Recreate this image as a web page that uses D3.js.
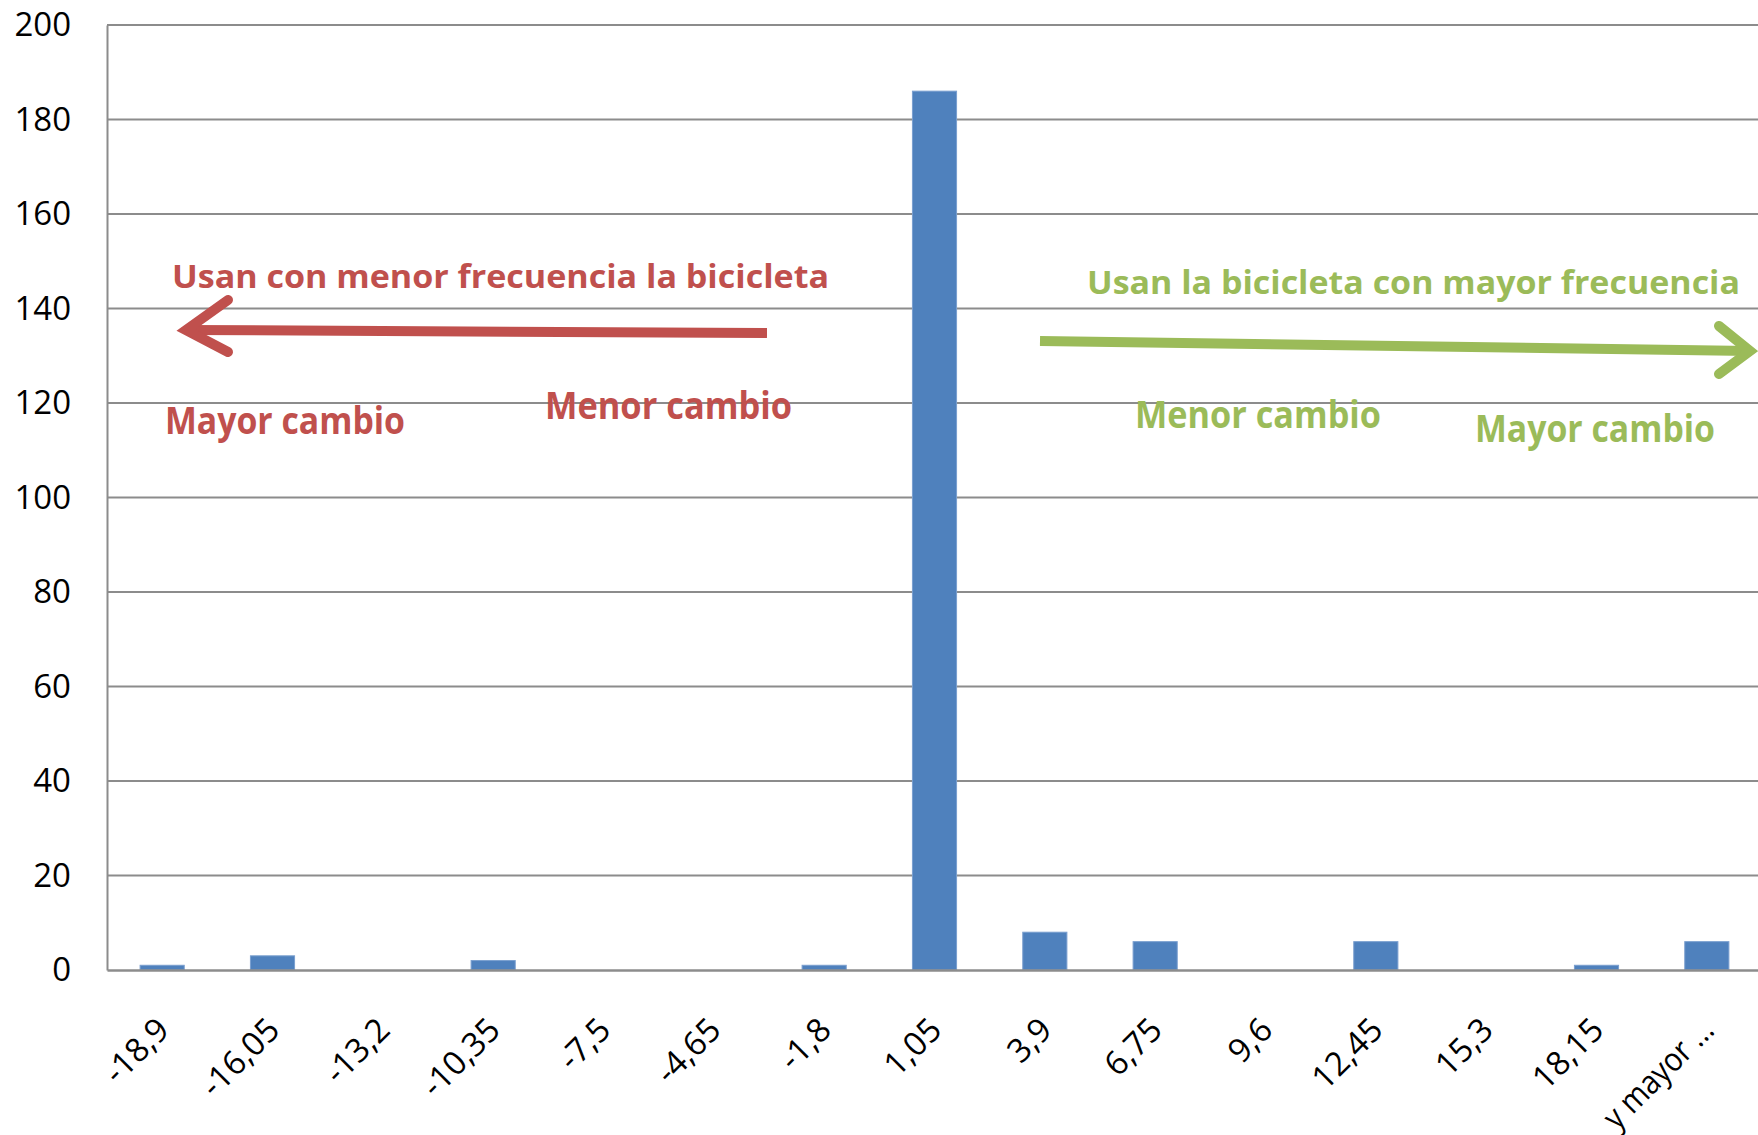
<!DOCTYPE html>
<html>
<head>
<meta charset="utf-8">
<script src="https://cdn.jsdelivr.net/npm/d3@7"></script>
<style>
  body { margin: 0; background: #fff; }
  svg { display: block; }
  .grid line { stroke: #8c8c8c; stroke-width: 2; }
  .axis text { font-family: "Open Sans", sans-serif; font-size: 33px; fill: #000; }
  .note { font-family: "Open Sans", sans-serif; font-weight: bold; }
</style>
</head>
<body>
<svg width="1758" height="1135"></svg>
<script>
// histogram bins (cambio en frecuencia de uso) and counts
const categories = ["-18,9", "-16,05", "-13,2", "-10,35", "-7,5", "-4,65", "-1,8", "1,05",
                    "3,9", "6,75", "9,6", "12,45", "15,3", "18,15", "y mayor ..."];
const counts = [1, 3, 0, 2, 0, 0, 1, 186, 8, 6, 0, 6, 0, 1, 6];
const yTicks = [0, 20, 40, 60, 80, 100, 120, 140, 160, 180, 200];

const red = "#c0504d", green = "#9bbb59";

// text annotations: [text, x, baseline, width, size, colour]
const notes = [
  ["Usan con menor frecuencia la bicicleta", 172, 288, 657, 33, red],
  ["Mayor cambio", 165, 434, 240, 37, red],
  ["Menor cambio", 545, 419, 247, 37, red],
  ["Usan la bicicleta con mayor frecuencia", 1087, 294, 653, 33, green],
  ["Menor cambio", 1135, 428, 246, 37, green],
  ["Mayor cambio", 1475, 442, 240, 37, green]
];

var svg = d3.select("svg"),
    plotLeft = 107, plotRight = 1762, plotTop = 25, plotBottom = 970;

var x = d3.scaleBand()
    .domain(categories)
    .range([plotLeft, plotRight])
    .paddingInner(0.6)
    .paddingOuter(0.3);

var y = d3.scaleLinear()
    .domain([0, 200])
    .range([plotBottom, plotTop]);

// gridlines
svg.append("g")
    .attr("class", "grid")
    .selectAll("line")
    .data(yTicks.filter(d => d > 0))
    .enter().append("line")
    .attr("x1", plotLeft)
    .attr("x2", 1758)
    .attr("y1", d => y(d))
    .attr("y2", d => y(d));

// y axis
var yAxis = svg.append("g")
    .attr("class", "axis")
    .attr("transform", "translate(" + plotLeft + ",0)")
    .call(d3.axisLeft(y).tickValues(yTicks).tickSize(0).tickPadding(36));
yAxis.select(".domain").attr("stroke", "#8c8c8c").attr("stroke-width", 2);

// bars
svg.append("g")
    .selectAll("rect")
    .data(counts)
    .enter().append("rect")
    .attr("x", (d, i) => x(categories[i]))
    .attr("width", x.bandwidth())
    .attr("y", d => y(d))
    .attr("height", d => y(0) - y(d))
    .attr("fill", "#4f81bd")
    .attr("stroke", "#7a9fcf")
    .attr("stroke-width", 1);

// x axis
var xAxis = svg.append("g")
    .attr("class", "axis")
    .attr("transform", "translate(0," + plotBottom + ")")
    .call(d3.axisBottom(x).tickSize(0));
xAxis.select(".domain").attr("stroke", "#8c8c8c").attr("stroke-width", 2.5);
xAxis.selectAll("text")
    .attr("y", 0)
    .attr("dy", 0)
    .attr("text-anchor", "end")
    .attr("transform", "translate(9,62) rotate(-45)");
// last label is narrower in the original (Calibri)
xAxis.selectAll("text")
    .filter(d => d === "y mayor ...")
    .attr("textLength", 140)
    .attr("lengthAdjust", "spacingAndGlyphs");

// arrows
function arrow(tail, tip, w1, w2, color) {
  svg.append("path")
      .attr("d", "M" + tail + "L" + tip)
      .attr("stroke", color)
      .attr("stroke-width", 10)
      .attr("fill", "none");
  svg.append("path")
      .attr("d", "M" + w1 + "L" + tip + "L" + w2)
      .attr("stroke", color)
      .attr("stroke-width", 10)
      .attr("stroke-linecap", "round")
      .attr("stroke-linejoin", "miter")
      .attr("fill", "none");
}
arrow([767, 333], [186, 330], [228, 300], [228, 352], red);
arrow([1040, 341], [1750, 351], [1719, 326], [1719, 374], green);

svg.selectAll(".note")
    .data(notes)
    .enter().append("text")
    .attr("class", "note")
    .attr("x", d => d[1])
    .attr("y", d => d[2])
    .attr("textLength", d => d[3])
    .attr("lengthAdjust", "spacingAndGlyphs")
    .attr("font-size", d => d[4])
    .attr("fill", d => d[5])
    .text(d => d[0]);
</script>
</body>
</html>
